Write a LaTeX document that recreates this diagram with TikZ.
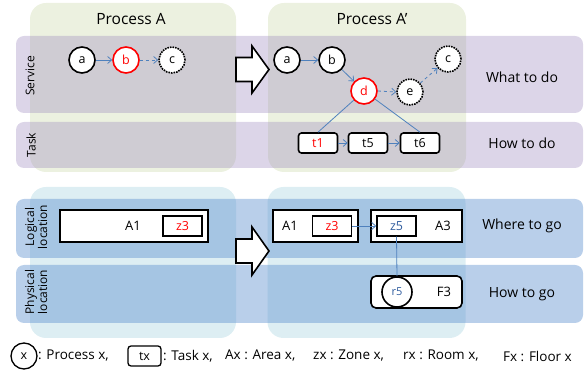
\documentclass[tikz,border=0pt]{standalone}
\usepackage{fontspec}
\setmainfont{Open Sans}
\usetikzlibrary{arrows.meta}
\definecolor{pGreen}{HTML}{ECF1E0}
\definecolor{pPurple}{HTML}{9B87BD}
\definecolor{pSky}{HTML}{DDEEF3}
\definecolor{pBlue}{HTML}{5C8FCE}
\definecolor{lBlue}{HTML}{4F81BD}
\definecolor{zBlue}{HTML}{2F5C9E}

\begin{document}
\begin{tikzpicture}[x=1pt,y=-1pt,>={Straight Barb[length=4pt,width=7pt]}]
		\tikzstyle{BAND} = [rounded corners=8pt, minimum width=567pt, inner sep=0pt]
		\tikzstyle{PROC} = [rounded corners=16pt, inner sep=0pt]
		\tikzstyle{service} = [BAND, fill=pPurple, fill opacity=0.35]
		\tikzstyle{location} = [BAND, fill=pBlue, fill opacity=0.43]
		\tikzstyle{procTop} = [PROC, fill=pGreen, minimum height=169pt]
		\tikzstyle{procBot} = [PROC, fill=pSky, minimum height=151pt]
		\tikzstyle{proc} = [circle, draw, line width=1.6pt, fill=white, minimum size=26pt, inner sep=0pt, font=\fontsize{12.5}{12}\selectfont]
		\tikzstyle{ghost} = [proc, densely dotted]
		\tikzstyle{task} = [draw, line width=1.6pt, rounded corners=3pt, fill=white, minimum width=39pt, minimum height=20pt, inner sep=0pt, font=\fontsize{12.5}{12}\selectfont]
		\tikzstyle{area} = [draw, line width=1.6pt, fill=white, minimum height=32pt, inner sep=0pt]
		\tikzstyle{zone} = [draw, line width=1.4pt, fill=white, minimum width=39pt, minimum height=20pt, inner sep=0pt, font=\fontsize{12.5}{12}\selectfont]
		\tikzstyle{side} = [rotate=90, align=center, font=\fontsize{12}{13}\selectfont]
		\tikzstyle{goal} = [font=\fontsize{14}{14}\selectfont]
		\tikzstyle{title} = [font=\fontsize{15.5}{16}\selectfont]
		\tikzstyle{legend} = [anchor=west, inner sep=0pt, font=\fontsize{13.5}{14}\selectfont]
		\tikzstyle{flow} = [->, lBlue, line width=0.8pt]
		\tikzstyle{bigarrow} = [line width=1.6pt, fill=white, line join=miter]

		\useasboundingbox (0,0) rectangle (587,371);

		% processes
		\node[procTop, minimum width=206pt] (pA) at (133, 87.5) {};
		\node[procTop, minimum width=198pt] (pB) at (367, 87.5) {};
		\node[procBot, minimum width=206pt] (lA) at (133, 262.5) {};
		\node[procBot, minimum width=198pt] (lB) at (366.5, 262.5) {};

		% lanes
		\node[service, minimum height=77pt] (svc) at (299.5, 74.5) {};
		\node[service, minimum height=46pt] (tsk) at (299.5, 145) {};
		\node[location, minimum height=59pt] (lgc) at (299.5, 228.5) {};
		\node[location, minimum height=58pt] (phy) at (299.5, 294) {};

		\node[title] (tA) at (131, 19) {Process A};
		\node[title] (tB) at (372, 19) {Process A'};

		\node[side] (sSvc) at (30, 76) {Service};
		\node[side] (sTsk) at (31, 145) {Task};
		\node[side] (sLgc) at (36, 227) {Logical\\location};
		\node[side] (sPhy) at (36, 292) {Physical\\location};

		\node[goal] (gWhat) at (522, 77) {What to do};
		\node[goal] (gHowDo) at (522, 143) {How to do};
		\node[goal] (gWhere) at (522, 226) {Where to go};
		\node[goal] (gHowGo) at (522, 294) {How to go};

		% change arrows
		\draw[bigarrow] (236,57.5) -- (252,57.5) -- (252,46) -- (269,69.5) -- (252,93) -- (252,81.5) -- (236,81.5) -- cycle;
		\draw[bigarrow] (236,239) -- (252,239) -- (252,227) -- (269,251) -- (252,275) -- (252,263) -- (236,263) -- cycle;

		% Process A
		\node[proc] (aOne) at (82, 60) {a};
		\node[proc, draw=red, text=red] (bOne) at (126, 60) {b};
		\node[ghost] (cOne) at (172, 60) {c};
		\draw[flow] (aOne.east) -- (bOne.west);
		\draw[flow, dashed] (bOne.east) -- (cOne.west);

		% Process A'
		\node[proc] (aTwo) at (287, 60) {a};
		\node[proc] (bTwo) at (332, 60) {b};
		\node[proc, draw=red, text=red] (dTwo) at (364, 91) {d};
		\node[ghost] (eTwo) at (410, 92) {e};
		\node[ghost] (cTwo) at (448, 59) {c};
		\draw[flow] (aTwo.east) -- (bTwo.west);
		\draw[flow] (bTwo) -- (dTwo);
		\draw[flow, dashed] (dTwo.east) -- (eTwo.west);
		\draw[flow, dashed] (eTwo) -- (cTwo);

		\node[task, text=red] (tOne) at (318, 143) {t1};
		\node[task] (tFive) at (368, 143) {t5};
		\node[task] (tSix) at (420, 143) {t6};
		\draw[lBlue, line width=0.8pt] (dTwo) -- (tOne.north);
		\draw[lBlue, line width=0.8pt] (dTwo) -- (tSix.north);
		\draw[flow] (tOne.east) -- (tFive.west);
		\draw[flow] (tFive.east) -- (tSix.west);

		% locations
		\node[area, minimum width=148pt] (aOneL) at (134, 226) {};
		\node[font=\fontsize{13}{13}\selectfont] (aOneLt) at (133, 226) {A1};
		\node[zone, text=red] (zThreeL) at (182.5, 226) {z3};

		\node[area, minimum width=85pt] (aOneR) at (315.5, 226) {};
		\node[font=\fontsize{13}{13}\selectfont] (aOneRt) at (290, 226) {A1};
		\node[zone, text=red] (zThreeR) at (332, 226) {z3};

		\node[area, minimum width=91pt] (aThree) at (416.5, 226) {};
		\node[font=\fontsize{13}{13}\selectfont] (aThreet) at (443, 226) {A3};
		\node[zone, text=zBlue] (zFive) at (396.5, 226) {z5};
		\draw[flow] (zThreeR.east) -- (zFive.west);

		\node[area, rounded corners=5pt, minimum width=91pt] (fThree) at (416.5, 292) {};
		\node[font=\fontsize{13}{13}\selectfont] (fThreet) at (444, 292) {F3};
		\node[circle, draw, line width=1.6pt, fill=white, minimum size=30pt, inner sep=0pt, text=zBlue, font=\fontsize{11}{11}\selectfont] (rFive) at (397, 292) {r5};
		\draw[lBlue, line width=0.8pt] (zFive.south) -- (rFive.north);

		% legend
		\node[proc, line width=1.3pt] (kProc) at (24, 356) {x};
		\node[legend] (lProc) at (38, 356) {: Process x,};
		\node[task, line width=1.3pt, minimum width=33pt] (kTask) at (144.5, 356) {tx};
		\node[legend] (lTask) at (163, 356) {: Task x,};
		\node[legend] (lArea) at (225, 356) {Ax : Area x,};
		\node[legend] (lZone) at (313, 356) {zx : Zone x,};
		\node[legend] (lRoom) at (403, 356) {rx : Room x,};
		\node[legend] (lFloor) at (503, 356) {Fx : Floor x};
\end{tikzpicture}
\end{document}
